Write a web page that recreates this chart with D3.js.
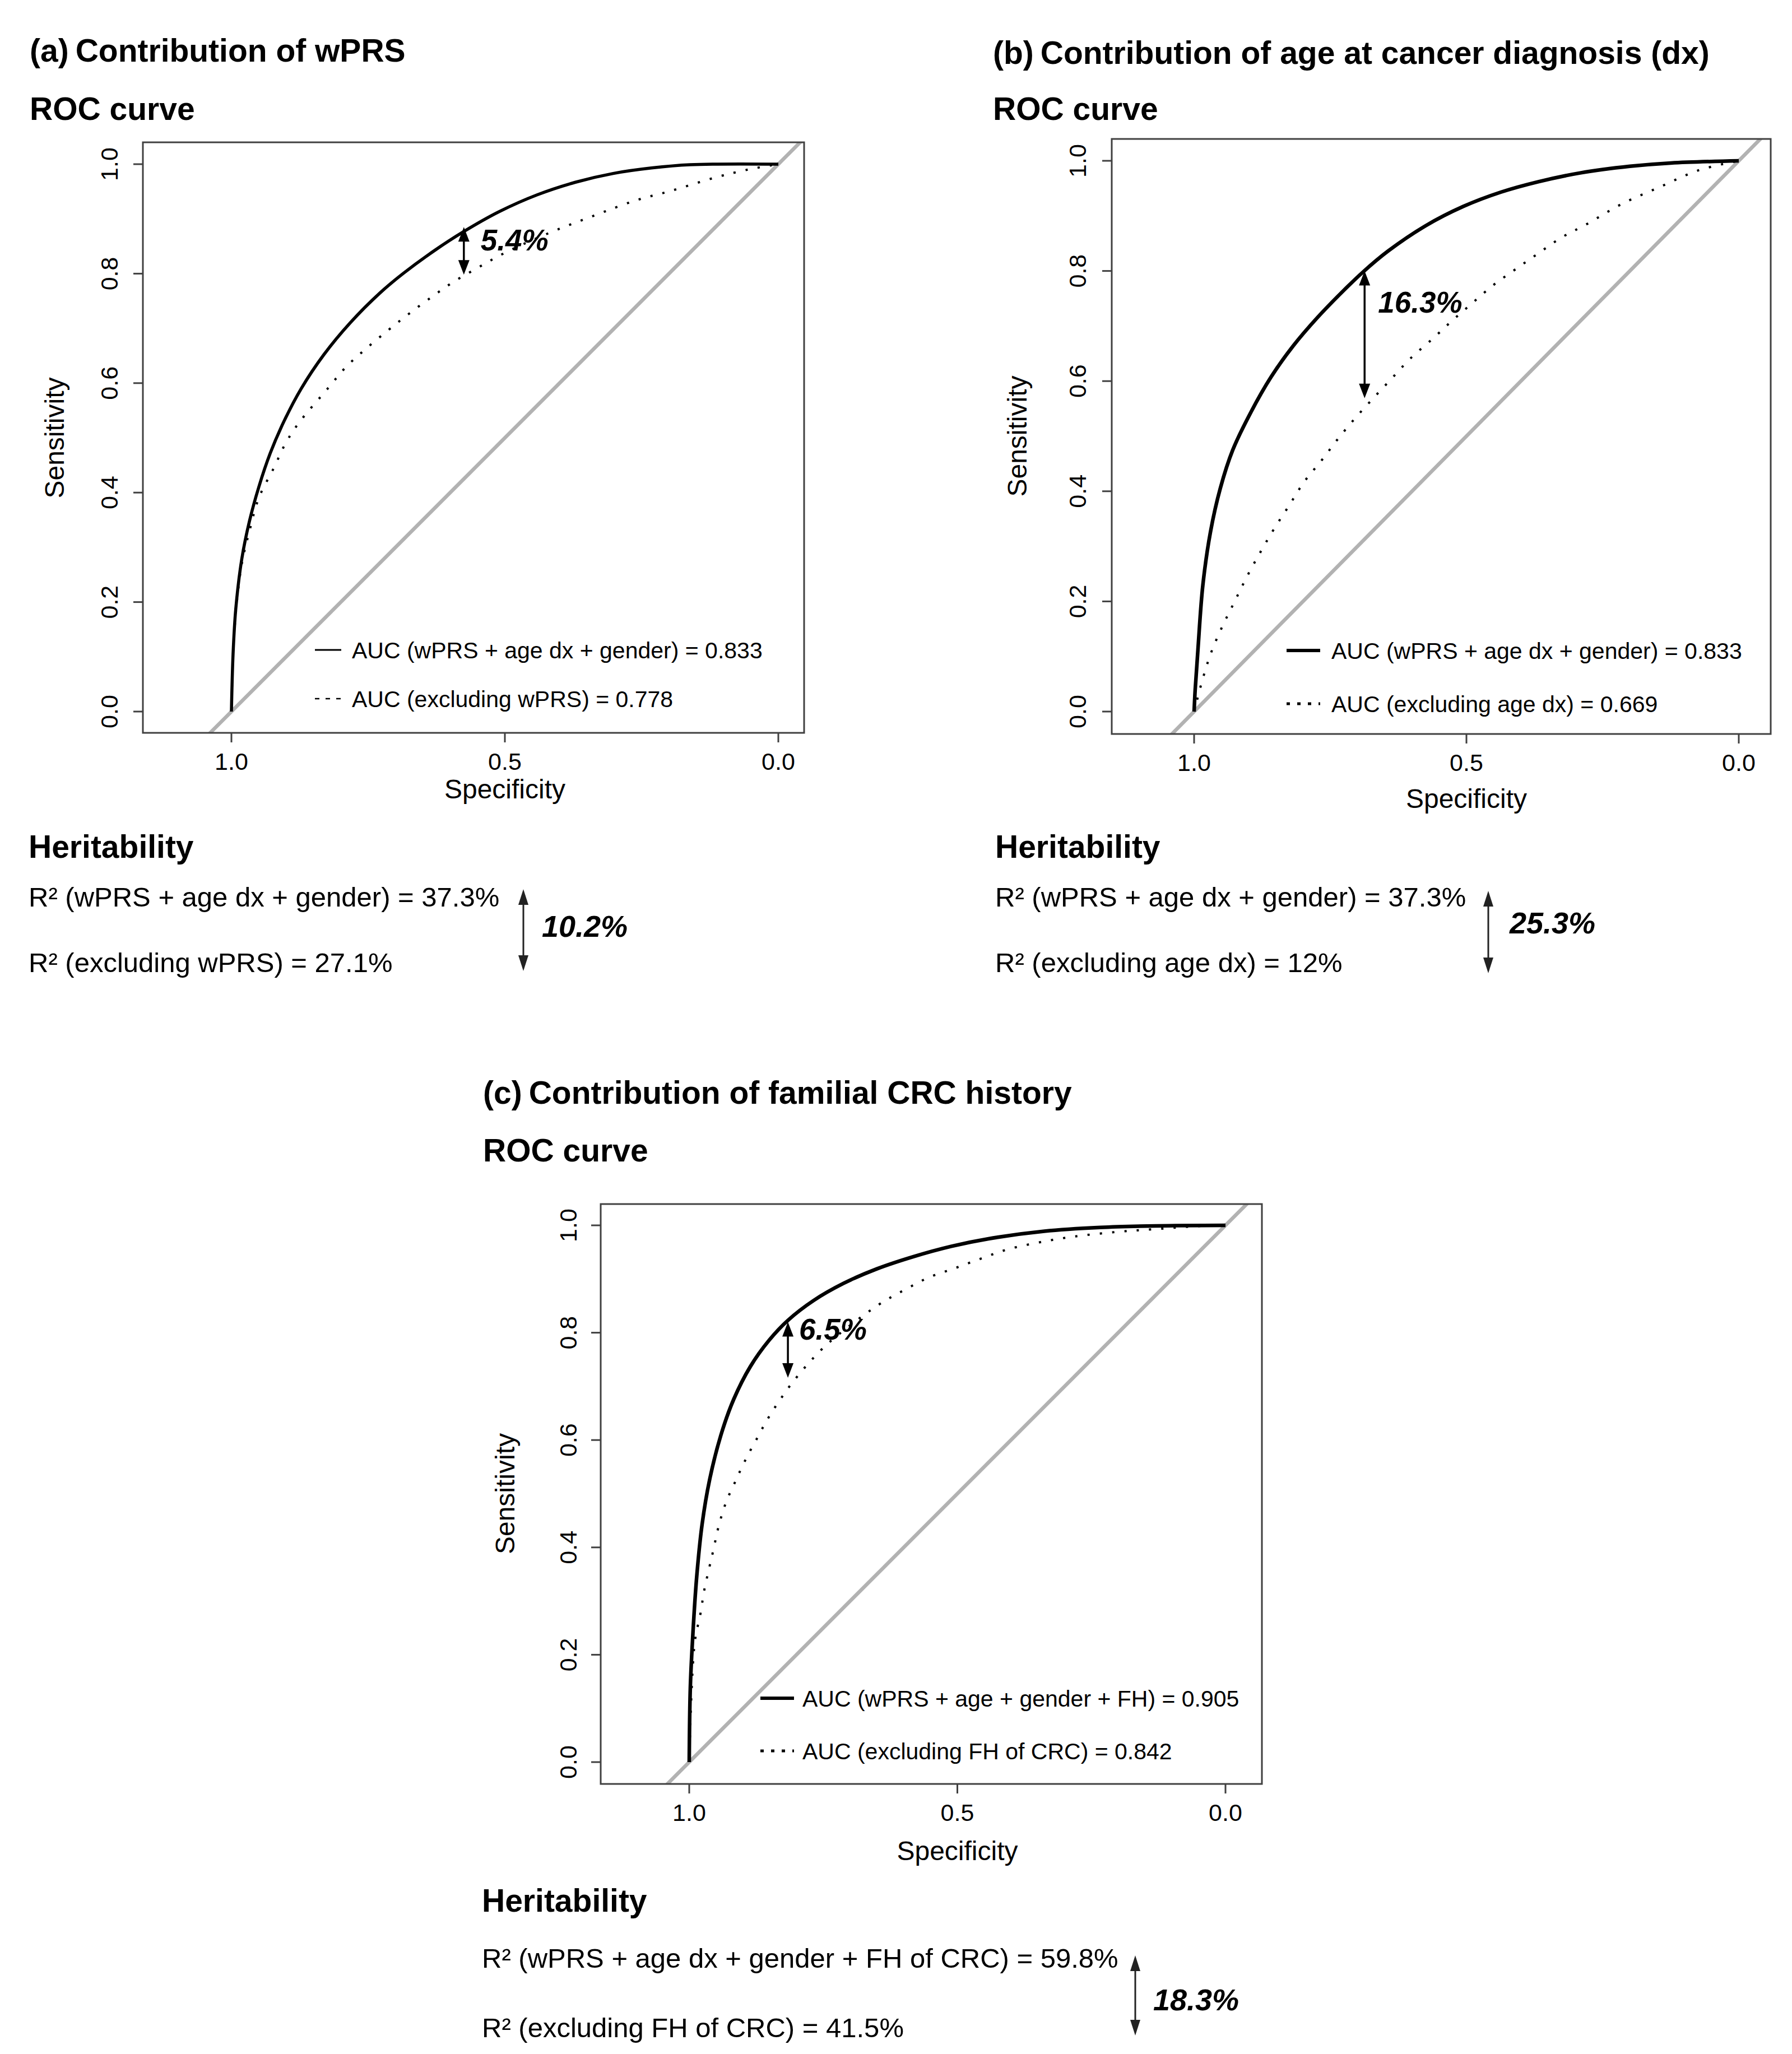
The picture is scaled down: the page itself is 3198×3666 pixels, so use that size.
<!DOCTYPE html>
<html><head><meta charset="utf-8">
<script src="https://cdn.jsdelivr.net/npm/d3@7"></script>
<style>
body{margin:0;background:#fff}
svg{display:block}
text{font-family:"Liberation Sans",Arial,Helvetica,sans-serif;fill:#000}
</style>
</head><body>
<svg id="chart" width="3198" height="3666"></svg>
<script>
// ---------------- data ----------------
const yTickVals = [0, 0.2, 0.4, 0.6, 0.8, 1.0];
const xTickVals = [1.0, 0.5, 0.0];
const panelLetters = ["(a)", "(b)", "(c)"];
const panelTitles = ["Contribution of wPRS", "Contribution of age at cancer diagnosis (dx)", "Contribution of familial CRC history"];
const subTitle = "ROC curve";
const heritTitle = "Heritability";
const xLabel = "Specificity";
const yLabel = "Sensitivity";

// panel (a)
const specA_full = [1, .997, .992, .981, .967, .95, .929, .904, .873, .831, .783, .727, .685, .629, .575, .511, .441, .371, .302, .232, .162, 0];
const sensA_full = [0, .105, .188, .279, .348, .410, .472, .530, .589, .652, .710, .766, .801, .842, .877, .913, .944, .967, .983, .993, .999, 1];
const specA_excl = [1, .997, .992, .981, .967, .95, .922, .901, .877, .824, .79, .755, .713, .675, .633, .594, .549, .504, .427, .337, .26, .197, .114, .051, 0];
const sensA_excl = [0, .10, .18, .27, .33, .39, .446, .49, .527, .59, .63, .662, .697, .727, .758, .785, .811, .836, .871, .906, .934, .951, .976, .991, 1];
const legendA = ["AUC (wPRS + age dx + gender) = 0.833", "AUC (excluding wPRS) = 0.778"];
const aucDiffA = {spec: 0.575, top: 0.885, bottom: 0.798, label: "5.4%"};
const r2A = ["R\u00B2 (wPRS + age dx + gender) = 37.3%", "R\u00B2 (excluding wPRS) = 27.1%"];
const r2DiffA = "10.2%";

// panel (b)
const specB_full = [1, .998, .993, .984, .970, .952, .929, .896, .859, .818, .773, .727, .690, .644, .575, .506, .437, .368, .291, .2, .125, 0];
const sensB_full = [0, .04, .112, .229, .326, .405, .475, .543, .607, .664, .716, .763, .798, .836, .882, .917, .943, .962, .978, .990, .996, 1];
const specB_excl = [1, .984, .968, .947, .926, .903, .878, .853, .825, .798, .766, .736, .704, .671, .637, .603, .563, .527, .490, .451, .410, .368, .325, .279, .216, .146, .073, 0];
const sensB_excl = [0, .060, .109, .157, .199, .245, .290, .332, .375, .417, .456, .495, .533, .569, .605, .641, .676, .709, .741, .774, .803, .832, .861, .885, .921, .952, .983, 1];
const legendB = ["AUC (wPRS + age dx + gender) = 0.833", "AUC (excluding age dx) = 0.669"];
const aucDiffB = {spec: 0.687, top: 0.800, bottom: 0.569, label: "16.3%"};
const r2B = ["R\u00B2 (wPRS + age dx + gender) = 37.3%", "R\u00B2 (excluding age dx) = 12%"];
const r2DiffB = "25.3%";

// panel (c)
const specC_full = [1, .998, .993, .986, .976, .962, .941, .917, .886, .851, .816, .768, .712, .650, .581, .511, .442, .338, .234, .130, 0];
const sensC_full = [0, .138, .242, .346, .443, .526, .609, .676, .737, .786, .823, .860, .892, .919, .942, .961, .975, .989, .996, .999, 1];
const specC_excl = [1, .990, .979, .972, .962, .955, .945, .931, .913, .903, .889, .872, .858, .844, .830, .813, .782, .740, .647, .598, .553, .505, .456, .407, .338, .283, .200, .130, .061, 0];
const sensC_excl = [0, .221, .277, .32, .365, .395, .44, .485, .525, .547, .575, .606, .632, .655, .676, .700, .738, .781, .852, .880, .903, .920, .938, .955, .970, .979, .988, .993, .998, 1];
const legendC = ["AUC (wPRS + age + gender + FH) = 0.905", "AUC (excluding FH of CRC) = 0.842"];
const aucDiffC = {spec: 0.816, top: 0.82, bottom: 0.716, label: "6.5%"};
const r2C = ["R\u00B2 (wPRS + age dx + gender + FH of CRC) = 59.8%", "R\u00B2 (excluding FH of CRC) = 41.5%"];
const r2DiffC = "18.3%";

// ---------------- layout ----------------
const svg = d3.select("#chart");
svg.append("rect").attr("width", 3198).attr("height", 3666).attr("fill", "#fff");
const defs = svg.append("defs");

const panels = [
  {letter: panelLetters[0], title: panelTitles[0], titleX: 53, titleY: 110, subY: 214,
   box: [255, 1435, 254, 1308], xr: [413, 1389], yr: [1270, 293],
   yTickLabX: 195, yLabX: 97, xLabY: 1425, lw: 5.5,
   full: [specA_full, sensA_full], excl: [specA_excl, sensA_excl], legend: legendA,
   legX: [562, 609], legTextX: 628, legY: [1160, 1247], legSolidW: 3, legDot: {w: 2.5, dash: "8 11"},
   diff: aucDiffA, diffLab: [30, 42],
   herit: {x: 51, titleY: 1531, l1: 1618, l2: 1735, arrowX: 934, arrowY: [1587, 1733], labX: 967, labY: 1672, rows: r2A, diff: r2DiffA}},
  {letter: panelLetters[1], title: panelTitles[1], titleX: 1772, titleY: 114, subY: 214,
   box: [1984, 3160, 248, 1310], xr: [2131, 3103], yr: [1270, 287],
   yTickLabX: 1923, yLabX: 1815, xLabY: 1442, lw: 6.5,
   full: [specB_full, sensB_full], excl: [specB_excl, sensB_excl], legend: legendB,
   legX: [2296, 2356], legTextX: 2376, legY: [1161, 1256], legSolidW: 6, legDot: {w: 5, dash: "6 13"},
   diff: aucDiffB, diffLab: [24, 74],
   herit: {x: 1776, titleY: 1531, l1: 1618, l2: 1735, arrowX: 2656, arrowY: [1590, 1737], labX: 2694, labY: 1666, rows: r2B, diff: r2DiffB}},
  {letter: panelLetters[2], title: panelTitles[2], titleX: 862, titleY: 1970, subY: 2073,
   box: [1072, 2252, 2149, 3184], xr: [1230, 2187], yr: [3145, 2187],
   yTickLabX: 1014, yLabX: 901, xLabY: 3320, lw: 6.5,
   full: [specC_full, sensC_full], excl: [specC_excl, sensC_excl], legend: legendC,
   legX: [1357, 1417], legTextX: 1432, legY: [3031, 3125], legSolidW: 6, legDot: {w: 5, dash: "6 13"},
   diff: aucDiffC, diffLab: [20, 32],
   herit: {x: 860, titleY: 3412, l1: 3512, l2: 3636, arrowX: 2026, arrowY: [3490, 3633], labX: 2058, labY: 3588, rows: r2C, diff: r2DiffC}}
];

function arrowHead(g, x, y, dir, len, half, color) {
  // dir: -1 pointing up, +1 pointing down; (x,y) is tip
  g.append("path")
    .attr("d", `M${x},${y} L${x - half},${y - dir * len} L${x + half},${y - dir * len} Z`)
    .attr("fill", color);
}

panels.forEach((p, i) => {
  const g = svg.append("g");
  // titles
  const t = g.append("text").attr("x", p.titleX).attr("y", p.titleY)
    .attr("font-size", 57).attr("font-weight", "bold");
  t.append("tspan").text(p.letter);
  t.append("tspan").attr("dx", 12).text(p.title);
  g.append("text").attr("x", p.titleX).attr("y", p.subY)
    .attr("font-size", 57).attr("font-weight", "bold").text(subTitle);

  const x = d3.scaleLinear().domain([1, 0]).range(p.xr);
  const y = d3.scaleLinear().domain([0, 1]).range(p.yr);
  const [bx0, bx1, by0, by1] = p.box;

  const clipId = "clip" + i;
  defs.append("clipPath").attr("id", clipId).append("rect")
    .attr("x", bx0).attr("y", by0).attr("width", bx1 - bx0).attr("height", by1 - by0);

  const plot = g.append("g").attr("clip-path", `url(#${clipId})`);
  // diagonal reference line
  const diag = [[1.2, -0.2], [-0.2, 1.2]];
  plot.append("line")
    .attr("x1", x(diag[0][0])).attr("y1", y(diag[0][1]))
    .attr("x2", x(diag[1][0])).attr("y2", y(diag[1][1]))
    .attr("stroke", "#b2b2b2").attr("stroke-width", 6.5);

  const line = d3.line().x(d => x(d[0])).y(d => y(d[1])).curve(d3.curveCatmullRom.alpha(0.5));
  const fullPts = p.full[0].map((s, k) => [s, p.full[1][k]]);
  const exclPts = p.excl[0].map((s, k) => [s, p.excl[1][k]]);
  plot.append("path").attr("d", line(exclPts)).attr("fill", "none")
    .attr("stroke", "#000").attr("stroke-width", 4).attr("stroke-dasharray", "4 18");
  plot.append("path").attr("d", line(fullPts)).attr("fill", "none")
    .attr("stroke", "#000").attr("stroke-width", p.lw).attr("stroke-linejoin", "round");

  // box
  g.append("rect").attr("x", bx0).attr("y", by0).attr("width", bx1 - bx0).attr("height", by1 - by0)
    .attr("fill", "none").attr("stroke", "#404040").attr("stroke-width", 3);

  // y axis
  yTickVals.forEach(v => {
    g.append("line").attr("x1", bx0).attr("x2", bx0 - 17).attr("y1", y(v)).attr("y2", y(v))
      .attr("stroke", "#404040").attr("stroke-width", 3);
    g.append("text").attr("transform", `translate(${p.yTickLabX},${y(v)}) rotate(-90)`)
      .attr("text-anchor", "middle").attr("dy", "0.36em").attr("font-size", 43)
      .text(d3.format(".1f")(v));
  });
  g.append("text").attr("transform", `translate(${p.yLabX},${y(0.5)}) rotate(-90)`)
    .attr("text-anchor", "middle").attr("dy", "0.36em").attr("font-size", 48).text(yLabel);

  // x axis
  xTickVals.forEach(v => {
    g.append("line").attr("x1", x(v)).attr("x2", x(v)).attr("y1", by1).attr("y2", by1 + 17)
      .attr("stroke", "#404040").attr("stroke-width", 3);
    g.append("text").attr("x", x(v)).attr("y", by1 + 66).attr("text-anchor", "middle")
      .attr("font-size", 43).text(d3.format(".1f")(v));
  });
  g.append("text").attr("x", x(0.5)).attr("y", p.xLabY).attr("text-anchor", "middle")
    .attr("font-size", 48).text(xLabel);

  // legend
  g.append("line").attr("x1", p.legX[0]).attr("x2", p.legX[1]).attr("y1", p.legY[0]).attr("y2", p.legY[0])
    .attr("stroke", "#000").attr("stroke-width", p.legSolidW);
  g.append("line").attr("x1", p.legX[0]).attr("x2", p.legX[1]).attr("y1", p.legY[1]).attr("y2", p.legY[1])
    .attr("stroke", "#000").attr("stroke-width", p.legDot.w).attr("stroke-dasharray", p.legDot.dash);
  p.legend.forEach((s, k) => {
    g.append("text").attr("x", p.legTextX).attr("y", p.legY[k]).attr("dy", "0.36em")
      .attr("font-size", 41).text(s);
  });

  // AUC difference arrow
  const ax = x(p.diff.spec), ay0 = y(p.diff.top), ay1 = y(p.diff.bottom);
  g.append("line").attr("x1", ax).attr("x2", ax).attr("y1", ay0 + 14).attr("y2", ay1 - 14)
    .attr("stroke", "#000").attr("stroke-width", 3.5);
  arrowHead(g, ax, ay0, -1, 26, 10, "#000");
  arrowHead(g, ax, ay1, 1, 26, 10, "#000");
  g.append("text").attr("x", ax + p.diffLab[0]).attr("y", ay0 + p.diffLab[1])
    .attr("font-size", 53).attr("font-weight", "bold").attr("font-style", "italic").text(p.diff.label);

  // heritability block
  const h = p.herit;
  g.append("text").attr("x", h.x).attr("y", h.titleY).attr("font-size", 57).attr("font-weight", "bold").text(heritTitle);
  g.append("text").attr("x", h.x).attr("y", h.l1).attr("font-size", 49).text(h.rows[0]);
  g.append("text").attr("x", h.x).attr("y", h.l2).attr("font-size", 49).text(h.rows[1]);
  g.append("line").attr("x1", h.arrowX).attr("x2", h.arrowX).attr("y1", h.arrowY[0] + 12).attr("y2", h.arrowY[1] - 12)
    .attr("stroke", "#222").attr("stroke-width", 3);
  arrowHead(g, h.arrowX, h.arrowY[0], -1, 28, 9, "#222");
  arrowHead(g, h.arrowX, h.arrowY[1], 1, 28, 9, "#222");
  g.append("text").attr("x", h.labX).attr("y", h.labY).attr("font-size", 54)
    .attr("font-weight", "bold").attr("font-style", "italic").text(h.diff);
});
</script>
</body></html>
